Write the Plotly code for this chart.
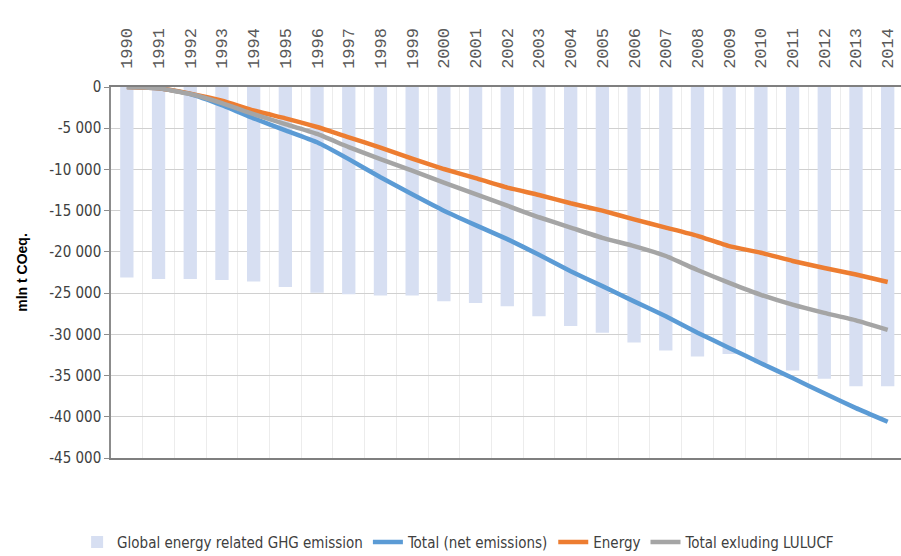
import plotly.graph_objects as go

years = [str(y) for y in range(1990, 2015)]

# Global energy related GHG emission (shown as negative columns, mln t CO2eq.)
global_energy_ghg = [-23100, -23300, -23300, -23400, -23600, -24250, -24950, -25150,
                     -25300, -25300, -26000, -26200, -26600, -27800, -29000, -29800,
                     -31000, -31950, -32700, -32400, -33500, -34400, -35400, -36300,
                     -36300]

# Cumulative series
total_net = [0, -150, -850, -2200, -3800, -5250, -6700, -8750, -10950, -13000,
             -15000, -16750, -18450, -20350, -22350, -24150, -26000, -27800,
             -29800, -31650, -33500, -35300, -37150, -38950, -40600]
energy = [0, -150, -800, -1650, -2850, -3800, -4850, -6100, -7350, -8700,
          -9950, -11050, -12200, -13100, -14100, -15000, -16050, -17050,
          -18050, -19300, -20100, -21100, -21950, -22750, -23650]
total_excl_lulucf = [0, -150, -850, -1950, -3300, -4500, -5700, -7300, -8750, -10150,
                     -11600, -13000, -14400, -15800, -17050, -18300, -19300, -20500,
                     -22200, -23750, -25200, -26400, -27400, -28300, -29450]

y_ticks = list(range(-45000, 1, 5000))
y_ticktext = [("-" if v < 0 else "") + f"{abs(v):,}".replace(",", " ") for v in y_ticks]

narrow = "DejaVu Sans Condensed, Liberation Sans Narrow, Liberation Sans, sans-serif"

fig = go.Figure()
fig.add_trace(go.Bar(
    x=years, y=global_energy_ghg, name="Global energy related GHG emission",
    marker=dict(color="#d7dff2", line=dict(width=0)), width=0.42,
))
fig.add_trace(go.Scatter(
    x=years, y=total_net, name="Total (net emissions)", mode="lines",
    line=dict(color="#5b9bd5", width=4.5, shape="spline", smoothing=0.4),
))
fig.add_trace(go.Scatter(
    x=years, y=energy, name="Energy", mode="lines",
    line=dict(color="#ed7d31", width=4.5, shape="spline", smoothing=0.4),
))
fig.add_trace(go.Scatter(
    x=years, y=total_excl_lulucf, name="Total exluding LULUCF", mode="lines",
    line=dict(color="#a5a5a5", width=4.5, shape="spline", smoothing=0.4),
))

fig.update_layout(
    width=901, height=556,
    margin=dict(l=111, r=0, t=87, b=98, autoexpand=False),
    paper_bgcolor="white", plot_bgcolor="white",
    font=dict(family=narrow, color="#404040"),
    showlegend=True,
    legend=dict(
        orientation="h", x=0.44, xanchor="center", y=-0.227, yanchor="middle",
        font=dict(size=15, color="#404040", family=narrow),
        itemwidth=30, tracegroupgap=0,
    ),
    xaxis=dict(
        type="category", side="top", range=[-0.5, 24.42],
        tickangle=-90, tickson="boundaries",
        tickfont=dict(size=17, color="#595959", family="Liberation Mono, DejaVu Sans Mono, monospace"),
        ticklabelstandoff=13,
        showgrid=True, gridcolor="#ececec", gridwidth=1,
        showline=True, linecolor="#7f7f7f", linewidth=1.5, mirror=True,
        ticks="", ticklen=0,
    ),
    yaxis=dict(
        range=[-45000, 0], tickvals=y_ticks, ticktext=y_ticktext,
        tickfont=dict(size=15, color="#404040", family=narrow),
        showgrid=True, gridcolor="#d0d0d0", gridwidth=1,
        zeroline=False,
        showline=True, linecolor="#8c8c8c", linewidth=1.5,
        ticks="outside", ticklen=5, tickcolor="#8c8c8c",
        title=dict(text="mln t COeq.", standoff=18,
                   font=dict(size=14, color="#000000",
                             family="Liberation Sans, DejaVu Sans, sans-serif", weight="bold")),
    ),
    bargap=0.58,
)

fig.write_html("out.html")
